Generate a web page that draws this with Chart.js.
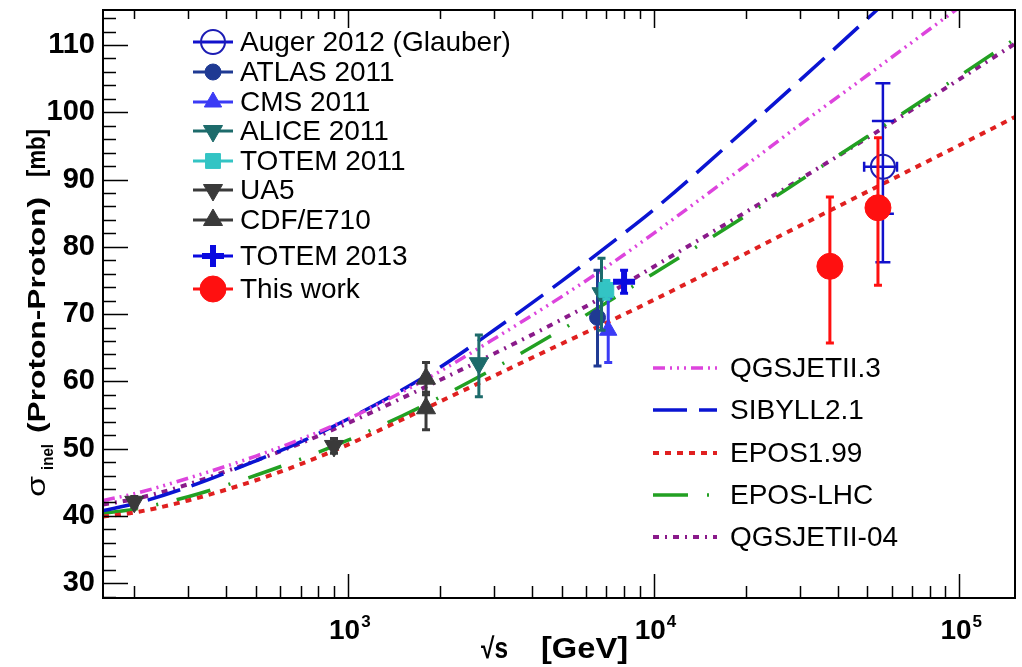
<!DOCTYPE html>
<html>
<head>
<meta charset="utf-8">
<script src="https://cdn.jsdelivr.net/npm/chart.js@4.4.1/dist/chart.umd.min.js"></script>
<style>
  html, body { margin: 0; padding: 0; background: #fff; overflow: hidden; }
  canvas { display: block; }
</style>
</head>
<body>
<canvas id="c" width="1022" height="667"></canvas>
<script>
const fontFamily = "'Liberation Sans', Arial, Helvetica, sans-serif";

// model predictions, sqrt(s) in GeV, sigma_inel in mb
const curveEnergy   = [158, 200, 300, 500, 700, 1000, 1500, 2000, 3000, 5000, 7000, 10000, 20000, 30000, 50000, 100000, 152000];
const qgsjet3Sigma  = [42.3, 43.3, 45.6, 48.9, 51.4, 54.4, 58.4, 61.5, 66.3, 72.6, 77.0, 82.0, 92.1, 98.1, 105.5, 115.6, 121.6];
const sibyllSigma   = [40.8, 41.8, 44.3, 48.2, 51.0, 54.4, 58.7, 62.1, 67.6, 74.9, 80.0, 85.5, 97.5, 104.7, 113.9, 126.5, 134.1];
const epos199Sigma  = [39.9, 40.5, 42.3, 45.3, 47.7, 50.6, 54.3, 57.0, 60.8, 65.6, 68.7, 72.1, 79.0, 83.1, 88.2, 95.1, 99.3];
const eposLhcSigma  = [40.4, 41.0, 42.85, 46.05, 48.45, 51.25, 54.85, 57.65, 61.9, 67.7, 71.7, 76.05, 84.6, 89.8, 96.4, 105.4, 110.9];
const qgsjet04Sigma = [41.7, 42.5, 44.7, 48.25, 50.8, 53.8, 57.5, 60.2, 64.1, 69.2, 72.85, 77.05, 85.15, 90.0, 96.2, 104.9, 110.2];

// measurements
const augerEnergy = [56200];
const augerSigma = [91.9];
const augerErrUp = [12.4];
const augerErrDown = [14.2];
const augerStatUp = [6.8];
const augerStatDown = [7.0];
const augerEnergyLo = [48800];
const augerEnergyHi = [62500];

const atlasEnergy = [6550];
const atlasSigma = [69.5];
const atlasErrUp = [7.0];
const atlasErrDown = [7.2];

const cmsEnergy = [7100];
const cmsSigma = [67.6];
const cmsErrUp = [4.8];
const cmsErrDown = [4.8];

const aliceEnergy = [2680, 6750];
const aliceSigma = [62.7, 73.1];
const aliceErrUp = [4.2, 5.2];
const aliceErrDown = [5.0, 5.5];

const totem11Energy = [7000];
const totem11Sigma = [73.6];
const totem11Err = [1.4];

const ua5Energy = [200, 900];
const ua5Sigma = [42.1, 50.4];
const ua5Err = [0.8, 1.1];

const cdfEnergy = [1800, 1800];
const cdfSigma = [60.4, 56.0];
const cdfErrUp = [2.4, 2.4];
const cdfErrDown = [2.4, 3.2];

const totem13Energy = [8000];
const totem13Sigma = [74.8];
const totem13Err = [1.7];

const thisWorkEnergy = [37700, 54150];
const thisWorkSigma = [77.1, 85.8];
const thisWorkErrUp = [10.3, 10.4];
const thisWorkErrDown = [11.4, 11.5];

const xTicks = [1000, 10000, 100000];
const xTickExponents = ["3", "4", "5"];
const yTicks = [30, 40, 50, 60, 70, 80, 90, 100, 110];

function pts(xs, ys) {
    return xs.map((x, i) => ({ x: x, y: ys[i] }));
}

function curve(label, ys, color, dash, width) {
    return {
        label: label,
        data: pts(curveEnergy, ys),
        borderColor: color,
        borderWidth: width,
        borderDash: dash,
        borderCapStyle: "butt",
        pointRadius: 0,
        cubicInterpolationMode: "monotone",
        fill: false,
        clip: 0,
        order: 30,
        isModel: true,
    };
}

function marks(label, xs, ys, up, down, color, style, radius, extra) {
    return Object.assign({
        label: label,
        data: pts(xs, ys),
        showLine: false,
        pointStyle: style,
        pointRadius: radius,
        pointBackgroundColor: color,
        pointBorderColor: color,
        pointBorderWidth: 1,
        pointRotation: 0,
        errUp: up,
        errDown: down,
        errColor: color,
        errWidth: 3,
        cap: 4,
        clip: false,
    }, extra || {});
}

const datasets = [
    curve("QGSJETII.3", qgsjet3Sigma, "#dd44dd", [12, 5, 2, 5, 2, 5, 2, 5], 3.5),
    curve("SIBYLL2.1", sibyllSigma, "#0a14d2", [34, 12], 3.5),
    curve("EPOS1.99", epos199Sigma, "#e02020", [6, 6], 4),
    curve("EPOS-LHC", eposLhcSigma, "#22a022", [35, 19, 2, 19], 3.5),
    curve("QGSJETII-04", qgsjet04Sigma, "#8a1a8a", [6, 6, 2, 6], 4),

    marks("Auger 2012 (Glauber)", augerEnergy, augerSigma, augerErrUp, augerErrDown, "#1c1cb4", "circle", 12,
        { pointBackgroundColor: "rgba(0,0,0,0)", pointBorderWidth: 2, errColor: "#1111cc", errWidth: 2.5, cap: 7.5,
          statUp: augerStatUp, statDown: augerStatDown, xLo: augerEnergyLo, xHi: augerEnergyHi, order: 9 }),
    marks("ATLAS 2011", atlasEnergy, atlasSigma, atlasErrUp, atlasErrDown, "#1f3a93", "circle", 8, { order: 8 }),
    marks("CMS 2011", cmsEnergy, cmsSigma, cmsErrUp, cmsErrDown, "#3b3bf5", "triangle", 10, { order: 7 }),
    marks("ALICE 2011", aliceEnergy, aliceSigma, aliceErrUp, aliceErrDown, "#1d6b6b", "triangle", 11, { pointRotation: 180, order: 6 }),
    marks("TOTEM 2011", totem11Energy, totem11Sigma, totem11Err, totem11Err, "#33c4c4", "rect", 10.5, { order: 5 }),
    marks("UA5", ua5Energy, ua5Sigma, ua5Err, ua5Err, "#3a3a3a", "triangle", 11, { pointRotation: 180, order: 4 }),
    marks("CDF/E710", cdfEnergy, cdfSigma, cdfErrUp, cdfErrDown, "#3a3a3a", "triangle", 11, { order: 3 }),
    marks("TOTEM 2013", totem13Energy, totem13Sigma, totem13Err, totem13Err, "#0a0ae0", "cross", 11, { pointBorderWidth: 6, order: 2 }),
    marks("This work", thisWorkEnergy, thisWorkSigma, thisWorkErrUp, thisWorkErrDown, "#ff1010", "circle", 13, { order: 1 }),
];

// error bars drawn just before each marker set
const errorBars = {
    id: "errorBars",
    beforeDatasetDraw(chart, args) {
        const ds = chart.data.datasets[args.index];
        if (!ds.errUp) return;
        const { ctx, scales: { x, y } } = chart;
        ctx.save();
        ctx.strokeStyle = ds.errColor;
        ctx.lineWidth = ds.errWidth;
        ds.data.forEach((p, i) => {
            const px = x.getPixelForValue(p.x);
            const top = y.getPixelForValue(p.y + ds.errUp[i]);
            const bot = y.getPixelForValue(p.y - ds.errDown[i]);
            ctx.beginPath();
            ctx.moveTo(px, top); ctx.lineTo(px, bot);
            ctx.moveTo(px - ds.cap, top); ctx.lineTo(px + ds.cap, top);
            ctx.moveTo(px - ds.cap, bot); ctx.lineTo(px + ds.cap, bot);
            if (ds.statUp) {
                const st = y.getPixelForValue(p.y + ds.statUp[i]);
                const sb = y.getPixelForValue(p.y - ds.statDown[i]);
                ctx.moveTo(px - 11, st); ctx.lineTo(px + 11, st);
                ctx.moveTo(px - 11, sb); ctx.lineTo(px + 11, sb);
            }
            if (ds.xLo) {
                const py = y.getPixelForValue(p.y);
                const lo = x.getPixelForValue(ds.xLo[i]);
                const hi = x.getPixelForValue(ds.xHi[i]);
                ctx.moveTo(lo, py); ctx.lineTo(hi, py);
                ctx.moveTo(lo, py - 5); ctx.lineTo(lo, py + 5);
                ctx.moveTo(hi, py - 5); ctx.lineTo(hi, py + 5);
            }
            ctx.stroke();
        });
        ctx.restore();
    },
};

// ROOT style frame with inner ticks and 10^n labels
const frameTicks = {
    id: "frameTicks",
    afterDraw(chart) {
        const { ctx, chartArea: a, scales: { x, y } } = chart;
        ctx.save();
        ctx.strokeStyle = "#000";
        ctx.lineWidth = 1.5;
        ctx.beginPath();
        for (let e = 2; e <= 5; e++) {
            for (let m = 1; m <= 9; m++) {
                const v = m * Math.pow(10, e);
                if (v < x.min || v > x.max) continue;
                const px = Math.round(x.getPixelForValue(v)) + 0.5;
                const len = m === 1 ? 24 : 12;
                ctx.moveTo(px, a.bottom); ctx.lineTo(px, a.bottom - len);
                ctx.moveTo(px, a.top); ctx.lineTo(px, a.top + (m === 1 ? 18 : 9));
            }
        }
        for (let v = 28; v <= 114; v += 2) {
            const py = Math.round(y.getPixelForValue(v)) + 0.5;
            const len = v % 10 === 0 ? 25 : 13;
            ctx.moveTo(a.left, py); ctx.lineTo(a.left + len, py);
        }
        ctx.stroke();
        ctx.lineWidth = 2;
        ctx.strokeRect(a.left, a.top, a.right - a.left, a.bottom - a.top);

        ctx.fillStyle = "#000";
        ctx.textBaseline = "alphabetic";
        xTicks.forEach((v, i) => {
            const px = x.getPixelForValue(v);
            ctx.font = "bold 28px " + fontFamily;
            ctx.fillText("10", px - 19, 639);
            const w = ctx.measureText("10").width;
            ctx.font = "bold 17px " + fontFamily;
            ctx.fillText(xTickExponents[i], px - 19 + w + 1, 627);
        });
        ctx.restore();
    },
};

function fitText(ctx, txt, font, x, y, w) {
    ctx.save();
    ctx.font = font;
    const m = ctx.measureText(txt).width;
    ctx.translate(x, y);
    ctx.scale(w / m, 1);
    ctx.fillText(txt, 0, 0);
    ctx.restore();
}

const titles = {
    id: "titles",
    afterDraw(chart) {
        const ctx = chart.ctx;
        ctx.save();
        ctx.fillStyle = "#000";
        ctx.textBaseline = "alphabetic";
        fitText(ctx, "\u221as", "bold 29px " + fontFamily, 481, 658, 27);
        fitText(ctx, "[GeV]", "bold 29px " + fontFamily, 541, 658, 87);

        ctx.save();
        ctx.rotate(-Math.PI / 2);
        // rotated frame: x' = -screenY, y' = screenX
        fitText(ctx, "\u03c3", "26px " + fontFamily, -497, 45, 21);
        fitText(ctx, "inel", "bold 16px " + fontFamily, -470, 53, 26);
        fitText(ctx, "(Proton-Proton)", "bold 24px " + fontFamily, -433, 45, 236);
        fitText(ctx, "[mb]", "bold 25px " + fontFamily, -177, 45, 48);
        ctx.restore();
        ctx.restore();
    },
};

const pointLegendRows = [42, 72, 102, 131, 161, 190, 220, 256, 289];
const modelLegendRows = [368, 410, 453, 495, 537];

const legends = {
    id: "legends",
    afterDraw(chart) {
        const ctx = chart.ctx;
        const sets = chart.data.datasets;
        ctx.save();
        ctx.font = "28px " + fontFamily;
        ctx.textBaseline = "middle";
        sets.filter(d => !d.isModel).forEach((d, i) => {
            const yy = pointLegendRows[i];
            ctx.strokeStyle = d.errColor;
            ctx.lineWidth = 3;
            ctx.setLineDash([]);
            ctx.beginPath(); ctx.moveTo(193, yy); ctx.lineTo(233, yy); ctx.stroke();
            ctx.fillStyle = d.pointBackgroundColor;
            ctx.strokeStyle = d.pointBorderColor;
            ctx.lineWidth = d.pointBorderWidth;
            Chart.helpers.drawPoint(ctx, {
                pointStyle: d.pointStyle, radius: d.pointRadius,
                rotation: d.pointRotation, borderWidth: d.pointBorderWidth,
            }, 213, yy);
            ctx.fillStyle = "#000";
            ctx.fillText(d.label, 240, yy + 1);
        });
        sets.filter(d => d.isModel).forEach((d, i) => {
            const yy = modelLegendRows[i];
            ctx.strokeStyle = d.borderColor;
            ctx.lineWidth = d.borderWidth;
            ctx.lineCap = "butt";
            ctx.setLineDash(d.borderDash);
            ctx.beginPath(); ctx.moveTo(653, yy); ctx.lineTo(717, yy); ctx.stroke();
            ctx.setLineDash([]);
            ctx.fillStyle = "#000";
            ctx.fillText(d.label, 730, yy + 1);
        });
        ctx.restore();
    },
};

function noPadding(s) {
    s.paddingTop = 0; s.paddingBottom = 0; s.paddingLeft = 0; s.paddingRight = 0;
}

new Chart(document.getElementById("c"), {
    type: "line",
    data: { datasets: datasets },
    options: {
        responsive: false,
        animation: false,
        devicePixelRatio: 1,
        layout: { autoPadding: false, padding: { left: 0, right: 7, top: 10, bottom: 0 } },
        plugins: { legend: { display: false }, tooltip: { enabled: false } },
        scales: {
            x: {
                type: "logarithmic",
                min: 158,
                max: 152000,
                afterFit(s) { s.height = 69; noPadding(s); },
                afterBuildTicks(s) { s.ticks = xTicks.map(v => ({ value: v })); },
                grid: { display: false, drawTicks: false },
                border: { display: false },
                ticks: { display: false },
            },
            y: {
                min: 27.8,
                max: 115.2,
                afterFit(s) { s.width = 103; noPadding(s); },
                afterBuildTicks(s) { s.ticks = yTicks.map(v => ({ value: v })); },
                grid: { display: false, drawTicks: false },
                border: { display: false },
                ticks: {
                    color: "#000",
                    font: { family: fontFamily, size: 29, weight: "bold" },
                    padding: 8,
                },
            },
        },
    },
    plugins: [errorBars, frameTicks, titles, legends],
});
</script>
</body>
</html>
